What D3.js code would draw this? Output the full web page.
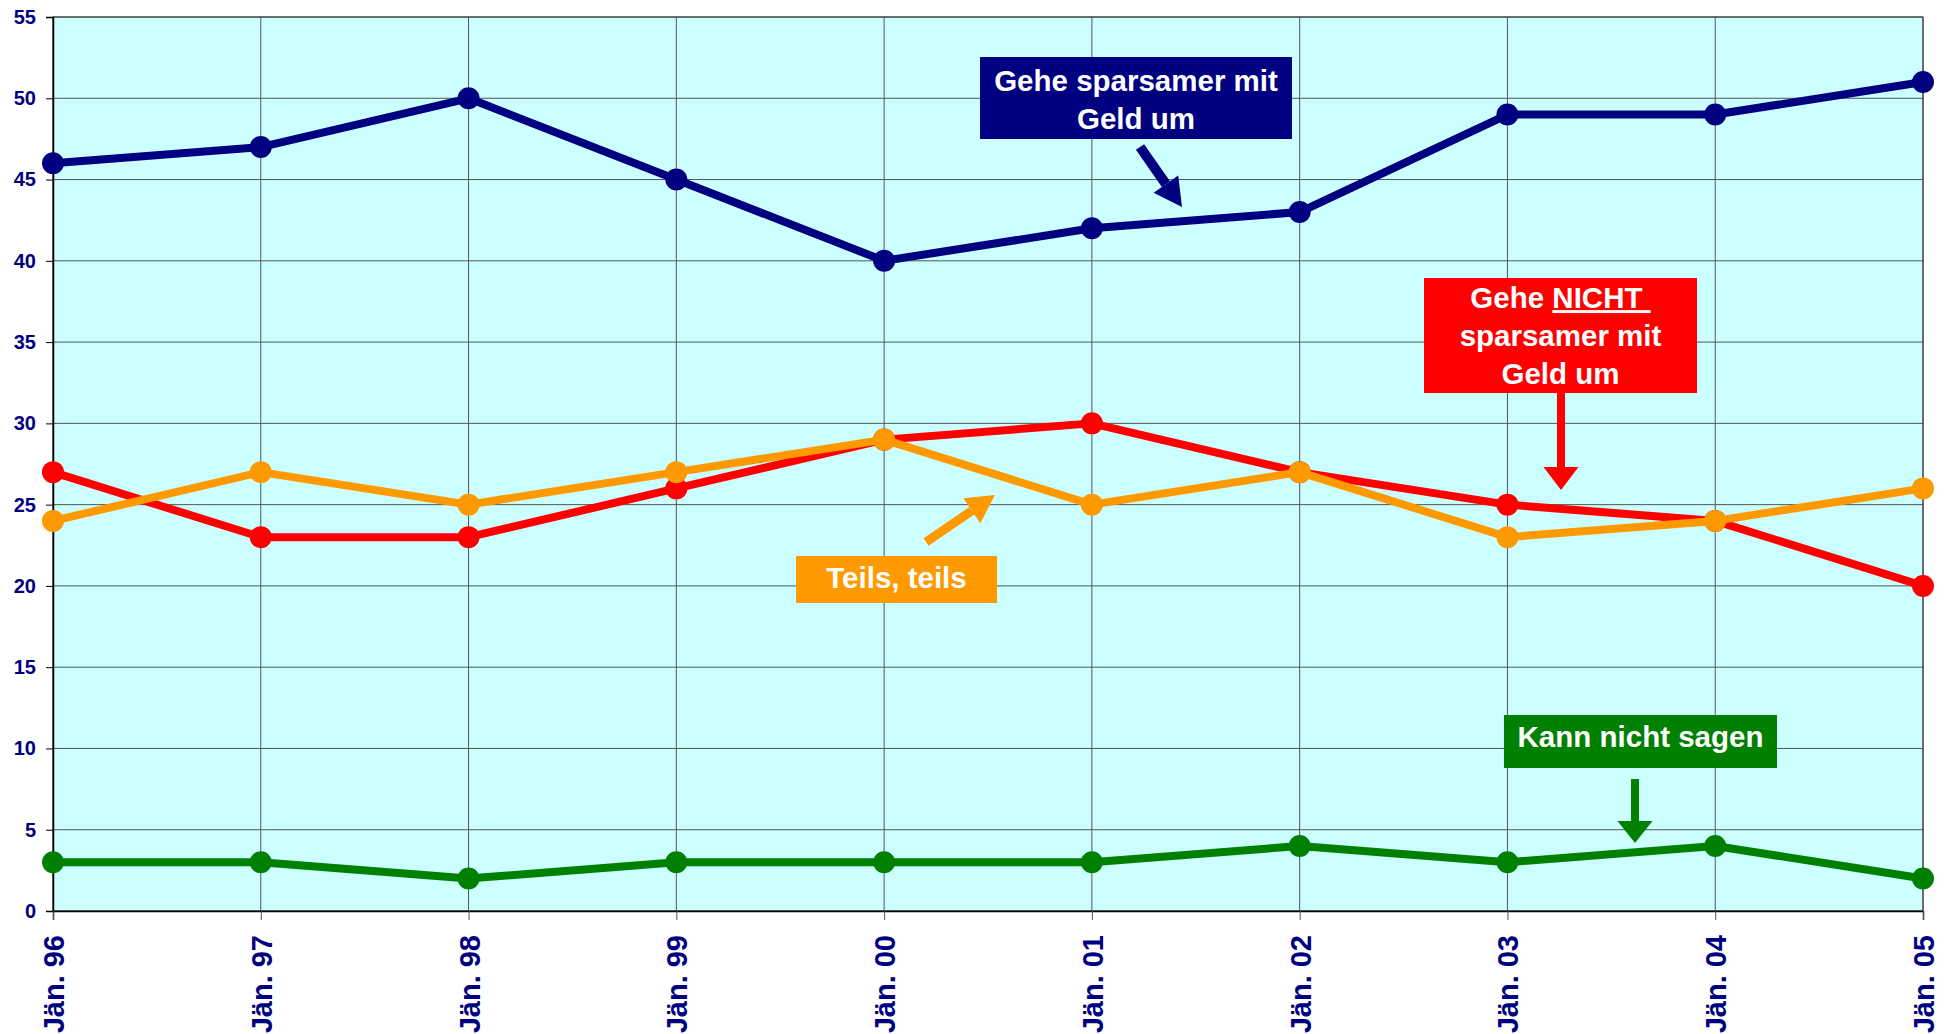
<!DOCTYPE html>
<html lang="de">
<head>
<meta charset="UTF-8">
<title>Sparsamkeit</title>
<script src="https://d3js.org/d3.v7.min.js"></script>
<style>
  body { margin: 0; background: #fff; font-family: Arial, "Liberation Sans", sans-serif; }
  .ytick text { font-size: 20px; font-weight: bold; fill: #000080; }
  .xtick text { font-size: 29px; font-weight: bold; fill: #000080; }
  .note { font-weight: bold; fill: #fff; }
</style>
</head>
<body>
<div id="chart"></div>
<script>
const categories = ["Jän. 96", "Jän. 97", "Jän. 98", "Jän. 99", "Jän. 00", "Jän. 01", "Jän. 02", "Jän. 03", "Jän. 04", "Jän. 05"];
const sparsamer = [46, 47, 50, 45, 40, 42, 43, 49, 49, 51];
const nichtSparsamer = [27, 23, 23, 26, 29, 30, 27, 25, 24, 20];
const teilsTeils = [24, 27, 25, 27, 29, 25, 27, 23, 24, 26];
const kannNichtSagen = [3, 3, 2, 3, 3, 3, 4, 3, 4, 2];
const yTicks = d3.range(0, 56, 5);

const series = [
  { values: sparsamer, color: "#000080" },
  { values: nichtSparsamer, color: "#ff0000" },
  { values: teilsTeils, color: "#ff9900" },
  { values: kannNichtSagen, color: "#008000" }
];

const W = 1950, H = 1034;
const pLeft = 53, pRight = 1923, pTop = 17, pBottom = 911;

const svg = d3.select("#chart").append("svg")
  .attr("width", W).attr("height", H);

const x = d3.scalePoint().domain(categories).range([pLeft, pRight]);
const y = d3.scaleLinear().domain([0, 55]).range([pBottom, pTop]);

// plot background
svg.append("rect")
  .attr("x", pLeft).attr("y", pTop)
  .attr("width", pRight - pLeft).attr("height", pBottom - pTop)
  .attr("fill", "#ccffff");

// grid
svg.append("g").selectAll("line").data(yTicks).enter().append("line")
  .attr("x1", pLeft).attr("x2", pRight)
  .attr("y1", d => y(d)).attr("y2", d => y(d))
  .attr("stroke", "#555").attr("stroke-width", 1);
svg.append("g").selectAll("line").data(categories).enter().append("line")
  .attr("x1", d => x(d)).attr("x2", d => x(d))
  .attr("y1", pTop).attr("y2", pBottom)
  .attr("stroke", "#555").attr("stroke-width", 1);

svg.append("rect")
  .attr("x", pLeft).attr("y", pTop)
  .attr("width", pRight - pLeft).attr("height", pBottom - pTop)
  .attr("fill", "none").attr("stroke", "#333").attr("stroke-width", 1);

// y axis
const yAxis = svg.append("g").attr("class", "ytick")
  .attr("transform", "translate(" + pLeft + ",0)")
  .call(d3.axisLeft(y).tickValues(yTicks).tickSize(7).tickPadding(10));
yAxis.select(".domain").attr("stroke", "#000").attr("stroke-width", 1.5);
yAxis.selectAll("line").attr("stroke", "#000");

// x axis
const xAxis = svg.append("g").attr("class", "xtick")
  .attr("transform", "translate(0," + pBottom + ")")
  .call(d3.axisBottom(x).tickSize(9));
xAxis.select(".domain").attr("stroke", "#000").attr("stroke-width", 1.5);
xAxis.selectAll("line").attr("stroke", "#555");
xAxis.selectAll("text")
  .attr("transform", "rotate(-90)")
  .attr("x", -24).attr("y", 0).attr("dy", "0.36em")
  .style("text-anchor", "end");

// lines and markers
const line = d3.line().x((d, i) => x(categories[i])).y(d => y(d));
series.forEach(s => {
  svg.append("path")
    .attr("d", line(s.values))
    .attr("fill", "none").attr("stroke", s.color)
    .attr("stroke-width", 8).attr("stroke-linejoin", "round");
  svg.append("g").selectAll("circle").data(s.values).enter().append("circle")
    .attr("cx", (d, i) => x(categories[i])).attr("cy", d => y(d))
    .attr("r", 11).attr("fill", s.color);
});

// arrows
function arrow(x1, y1, x2, y2, color, w, hw, hl) {
  const a = Math.atan2(y2 - y1, x2 - x1);
  const bx = x2 - hl * Math.cos(a), by = y2 - hl * Math.sin(a);
  svg.append("line").attr("x1", x1).attr("y1", y1).attr("x2", bx).attr("y2", by)
    .attr("stroke", color).attr("stroke-width", w);
  const px = -Math.sin(a), py = Math.cos(a);
  svg.append("path")
    .attr("d", "M" + x2 + "," + y2 + "L" + (bx + px * hw / 2) + "," + (by + py * hw / 2) +
      "L" + (bx - px * hw / 2) + "," + (by - py * hw / 2) + "Z")
    .attr("fill", color);
}

function note(bx, by, bw, bh, color, lines, size, shift) {
  svg.append("rect").attr("x", bx).attr("y", by).attr("width", bw).attr("height", bh).attr("fill", color);
  const lh = 38;
  const y0 = by + bh / 2 - lh * (lines.length - 1) / 2 + (shift || 0);
  lines.forEach((t, i) => {
    const txt = svg.append("text").attr("class", "note")
      .attr("x", bx + bw / 2).attr("y", y0 + lh * i)
      .attr("dy", "0.36em").attr("text-anchor", "middle")
      .style("font-size", size + "px");
    if (Array.isArray(t)) {
      t.forEach(p => {
        const ts = txt.append("tspan").text(p.text);
        if (p.u) ts.style("text-decoration", "underline");
      });
    } else txt.text(t);
  });
}

note(980, 57, 312, 82, "#000080", ["Gehe sparsamer mit", "Geld um"], 29.5, 1);
arrow(1140, 147, 1182, 207, "#000080", 10, 30, 28);

note(1424, 278, 273, 115, "#ff0000", [[{ text: "Gehe " }, { text: "NICHT\u00a0", u: true }], "sparsamer mit", "Geld um"], 29.5);
arrow(1561, 393, 1561, 490, "#ff0000", 8, 35, 23);

note(796, 556, 201, 47, "#ff9900", ["Teils, teils"], 29.5, -2);
arrow(926, 542, 995, 495, "#ff9900", 9, 30, 28);

note(1504, 715, 273, 53, "#008000", ["Kann nicht sagen"], 29.5, -5);
arrow(1635, 779, 1635, 843, "#008000", 8, 35, 22);
</script>
</body>
</html>
